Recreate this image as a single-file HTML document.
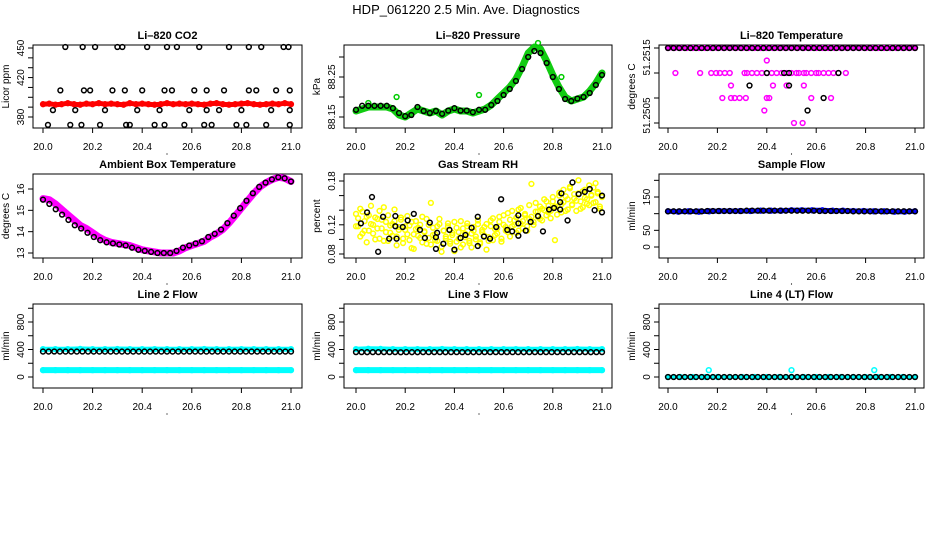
<!DOCTYPE html>
<html><head><meta charset="utf-8">
<style>
html,body{margin:0;padding:0;background:#fff;}
svg{display:block;font-family:"Liberation Sans",sans-serif;}
</style></head>
<body>
<svg id="chart" width="936" height="540" viewBox="0 0 936 540">
<text x="466" y="14" text-anchor="middle" font-size="13">HDP_061220  2.5 Min. Ave. Diagnostics</text>
</svg>
<script>
// ---------- data ----------
const xTicks = [20.0, 20.2, 20.4, 20.6, 20.8, 21.0];
const xTickLabels = ["20.0", "20.2", "20.4", "20.6", "20.8", "21.0"];
const panelTitles = ["Li\u2013820 CO2","Li\u2013820 Pressure","Li\u2013820 Temperature","Ambient Box Temperature","Gas Stream RH","Sample Flow","Line 2 Flow","Line 3 Flow","Line 4 (LT) Flow"];
const yAxisTitles = ["Licor ppm","kPa","degrees C","degrees C","percent","ml/min","ml/min","ml/min","ml/min"];

// CO2
const co2BlackX = [20.02,20.04,20.07,20.09,20.11,20.13,20.155,20.16,20.165,20.19,20.21,20.23,20.25,20.28,20.30,20.32,20.33,20.335,20.35,20.38,20.40,20.42,20.45,20.47,20.49,20.49,20.50,20.52,20.54,20.57,20.59,20.61,20.63,20.65,20.66,20.66,20.68,20.71,20.73,20.75,20.78,20.80,20.82,20.83,20.83,20.86,20.88,20.90,20.92,20.94,20.97,20.99,20.995,20.995,20.995];
const co2BlackY = [372,387,407,451,372,387,372,451,407,407,451,372,387,407,451,451,407,372,372,387,407,451,372,387,372,407,451,407,451,372,387,407,451,372,407,387,372,387,407,451,372,387,372,451,407,407,451,372,387,407,451,451,387,372,407];
const co2Red = [393,393.5,392.5,393,394,393,392.5,393.5,393,394,393,393.5,393,392.5,394,393,393.5,393,392.5,393,394,393,393.5,393,393.5,393,392.5,393.5,394,393,392.5,393,393.5,394,393,392.5,393,393.5,393,394,393];

// Pressure
const presGreen = [88.165,88.17,88.175,88.175,88.175,88.175,88.17,88.155,88.15,88.16,88.17,88.165,88.16,88.165,88.155,88.165,88.17,88.165,88.165,88.16,88.165,88.17,88.18,88.195,88.21,88.225,88.245,88.275,88.31,88.325,88.32,88.29,88.255,88.225,88.2,88.19,88.195,88.2,88.215,88.235,88.26];
const presBlack = [88.168,88.178,88.178,88.178,88.178,88.178,88.172,88.16,88.152,88.155,88.175,88.165,88.16,88.165,88.158,88.166,88.172,88.166,88.166,88.162,88.168,88.168,88.18,88.19,88.205,88.22,88.24,88.27,88.3,88.315,88.31,88.285,88.25,88.22,88.195,88.19,88.196,88.2,88.21,88.23,88.255];
const presGreenOutX = [20.05,20.165,20.5,20.74,20.835];
const presGreenOutY = [88.185,88.2,88.205,88.335,88.25];

// Temperature (Li-820)
const tempTop = 51.2520;
const tempMagX = [20.03,20.13,20.175,20.195,20.21,20.23,20.25,20.31,20.32,20.34,20.36,20.38,20.40,20.42,20.44,20.46,20.48,20.50,20.52,20.53,20.55,20.56,20.58,20.60,20.61,20.63,20.65,20.67,20.69,20.72,20.40,20.255,20.425,20.48,20.55,20.22,20.255,20.27,20.29,20.315,20.40,20.41,20.58,20.66,20.39,20.51,20.545];
const tempMagY = [51.2516,51.2516,51.2516,51.2516,51.2516,51.2516,51.2516,51.2516,51.2516,51.2516,51.2516,51.2516,51.2516,51.2516,51.2516,51.2516,51.2516,51.2516,51.2516,51.2516,51.2516,51.2516,51.2516,51.2516,51.2516,51.2516,51.2516,51.2516,51.2516,51.2516,51.2518,51.2514,51.2514,51.2514,51.2514,51.2512,51.2512,51.2512,51.2512,51.2512,51.2512,51.2512,51.2512,51.2512,51.2510,51.2508,51.2508];
const tempBlackX = [20.40,20.47,20.49,20.69,20.33,20.49,20.63,20.565];
const tempBlackY = [51.2516,51.2516,51.2516,51.2516,51.2514,51.2514,51.2512,51.2510];

// Ambient box temperature
const ambient = [15.55,15.5,15.3,15.05,14.8,14.55,14.3,14.15,13.95,13.75,13.6,13.5,13.45,13.4,13.35,13.25,13.15,13.1,13.05,13.0,13.0,13.0,13.1,13.25,13.35,13.45,13.55,13.75,13.9,14.1,14.4,14.75,15.1,15.45,15.8,16.1,16.3,16.45,16.55,16.5,16.35];

// Gas stream RH
const rhBlackX = [20.02,20.045,20.065,20.09,20.11,20.135,20.16,20.165,20.16,20.19,20.21,20.235,20.26,20.28,20.30,20.325,20.33,20.325,20.355,20.38,20.40,20.425,20.445,20.47,20.495,20.495,20.52,20.545,20.57,20.59,20.615,20.635,20.66,20.66,20.66,20.69,20.71,20.74,20.76,20.785,20.805,20.83,20.83,20.835,20.86,20.88,20.905,20.93,20.95,20.97,21.0,21.0];
const rhBlackY = [0.122,0.137,0.158,0.083,0.131,0.101,0.118,0.101,0.132,0.117,0.126,0.135,0.113,0.102,0.123,0.087,0.109,0.103,0.094,0.113,0.086,0.102,0.106,0.116,0.131,0.091,0.104,0.101,0.117,0.155,0.113,0.111,0.105,0.122,0.133,0.112,0.124,0.132,0.111,0.141,0.143,0.141,0.151,0.163,0.126,0.178,0.162,0.165,0.169,0.140,0.137,0.160];
const rhYellow = [0.135,0.118,0.142,0.108,0.125,0.131,0.112,0.146,0.12,0.1,0.128,0.139,0.115,0.098,0.124,0.133,0.109,0.121,0.141,0.104,0.117,0.127,0.095,0.113,0.132,0.119,0.088,0.107,0.125,0.116,0.102,0.131,0.111,0.094,0.12,0.15,0.106,0.099,0.118,0.128,0.09,0.112,0.104,0.122,0.097,0.109,0.084,0.116,0.101,0.125,0.093,0.108,0.118,0.098,0.089,0.112,0.104,0.121,0.096,0.11,0.117,0.086,0.103,0.126,0.099,0.114,0.108,0.131,0.097,0.12,0.112,0.136,0.104,0.118,0.126,0.109,0.141,0.122,0.115,0.133,0.112,0.128,0.176,0.12,0.138,0.131,0.145,0.126,0.14,0.152,0.137,0.129,0.158,0.145,0.134,0.16,0.148,0.168,0.139,0.155,0.172,0.147,0.162,0.153,0.181,0.142,0.166,0.157,0.149,0.174,0.161,0.15,0.177,0.163,0.145,0.158];
const rhYellow2 = [0.118,0.129,0.104,0.138,0.112,0.096,0.133,0.121,0.108,0.13,0.115,0.101,0.127,0.144,0.11,0.098,0.119,0.105,0.125,0.092,0.113,0.13,0.101,0.118,0.107,0.099,0.124,0.087,0.114,0.105,0.12,0.096,0.11,0.128,0.102,0.093,0.116,0.107,0.098,0.121,0.083,0.112,0.101,0.118,0.094,0.106,0.124,0.097,0.11,0.089,0.115,0.103,0.122,0.095,0.108,0.117,0.1,0.126,0.094,0.113,0.105,0.121,0.098,0.118,0.129,0.106,0.115,0.124,0.101,0.133,0.117,0.11,0.127,0.139,0.12,0.13,0.112,0.143,0.125,0.135,0.118,0.147,0.131,0.124,0.15,0.138,0.128,0.142,0.155,0.133,0.146,0.139,0.152,0.099,0.145,0.164,0.137,0.151,0.159,0.141,0.17,0.148,0.156,0.139,0.163,0.152,0.144,0.168,0.155,0.147,0.16,0.171,0.151,0.165,0.142,0.159];

// Sample flow
const sampleBlue = [107,106,107,106,107,108,108,108,108,109,109,109,110,110,110,110,109,109,108,108,107,107,106,106,107];
const sampleBlack = [107,107,107,107,107,107,107,108,108,108,108,108,108,108,109,109,109,109,109,109,109,109,109,109,109,109,109,108,108,108,108,108,108,107,107,107,107,107,107,107,107,107,107,107,107];

// Line flows
const line2CyanHigh = [405,405,405,408,405,405,407,405,405,406,405,405,405,407,405,405,406,405,405,405,405];
const line2CyanLow = [100,100,100,100,100,100,100,100,100,100,100,100,100,100,100,100,100,100,100,100,100];
const line2Black = [370,370,371,370,370,370,370,371,370,370,370,370,370,370,370,370,370,370,370,370,370,370,370,370,370,370,371,370,370,370,370,370,370,370,370,370,370,370,370,370,370,370,370,370,370];
const line3CyanHigh = [405,410,408,405,405,406,405,407,405,405,405,405,405,406,405,405,405,405,407,405,405];
const line3CyanLow = [100,100,100,100,100,100,100,100,100,100,100,100,100,100,100,100,100,100,100,100,100];
const line3Black = [362,362,361,362,362,362,362,362,360,362,361,361,362,362,362,362,361,362,362,362,362,361,362,362,362,362,362,362,362,362,361,362,362,362,362,362,362,362,362,362,362,362,361,362,362];
const line4Cyan = [0,0,0,0,0,0,0,0,0,0,0,0,0,0,0,0,0,0,0,0,0];
const line4Black = [0,0,0,0,0,0,0,0,0,0,0,0,0,0,0,0,0,0,0,0,0,0,0,0,0,0,0,0,0,0,0,0,0,0,0,0,0,0,0,0,0,0,0,0,0];
const line4OutX = [20.165,20.50,20.835];
const line4OutY = [100,100,100];

// y ticks per panel
const yTicks = [[380,390,400,410,420,430,440,450],[88.15,88.20,88.25,88.30],[51.2520,51.2516,51.2512,51.2508],[13,14,15,16],[0.08,0.10,0.12,0.14,0.16,0.18],[0,50,100,150,200],[0,200,400,600,800,1000],[0,200,400,600,800,1000],[0,200,400,600,800,1000]];
const yLabelVals = [[380,420,450],[88.15,88.25],[51.25185,51.25092],[13,14,15,16],[0.08,0.12,0.18],[0,50,150],[0,400,800],[0,400,800],[0,400,800]];
const yLabelText = [["380","420","450"],["88.15","88.25"],["51.2515","51.2505"],["13","14","15","16"],["0.08","0.12","0.18"],["0","50","150"],["0","400","800"],["0","400","800"],["0","400","800"]];

// ---------- layout (not data) ----------
const cols = [{bl:33,br:302,x0:43,x1:291},{bl:344,br:612,x0:356,x1:602},{bl:659,br:924,x0:668,x1:915}];
const rows = [{bt:45,bb:128},{bt:174,bb:258},{bt:304,bb:388}];
const yRef = [[450,48,380,117],[88.25,77,88.15,117],[51.2520,48,51.2508,123],[16,189,13,253],[0.18,181,0.08,254],[150,197,0,247],[800,322,0,377],[800,322,0,377],[800,322,0,377]];

const NS = "http://www.w3.org/2000/svg";
const svg = document.getElementById('chart');
function mk(tag, attrs, parent){const e=document.createElementNS(NS,tag);for(const k in attrs)e.setAttribute(k,attrs[k]);(parent||svg).appendChild(e);return e;}
function even(n,i){return 20+i/(n-1);}

for(let p=0;p<9;p++){
  const c=cols[p%3], r=rows[Math.floor(p/3)], yr=yRef[p];
  const g=mk('g',{});
  
  
  const sx=v=>c.x0+(v-20)*(c.x1-c.x0);
  const sy=v=>yr[1]+(yr[0]-v)/(yr[0]-yr[2])*(yr[3]-yr[1]);
  const t=mk('text',{x:(c.bl+c.br)/2,y:r.bt-6,'text-anchor':'middle','font-size':'11','font-weight':'bold'},g);
  t.textContent=panelTitles[p];
  
  
  const box=mk('rect',{x:c.bl,y:r.bt,width:c.br-c.bl,height:r.bb-r.bt,fill:'none',stroke:'#000','stroke-width':'1'},g);
  
  
  const xa=mk('g',{},g);
  
  
  mk('line',{x1:sx(20),x2:sx(21),y1:r.bb,y2:r.bb,stroke:'#000'},xa);
  xTicks.forEach((v,i)=>{
    mk('line',{x1:sx(v),x2:sx(v),y1:r.bb,y2:r.bb+5,stroke:'#000'},xa);
    const l=mk('text',{x:sx(v),y:r.bb+22,'text-anchor':'middle','font-size':'10'},xa);
    l.textContent=xTickLabels[i];
    
    
  });
  const ya=mk('g',{},g);
  
  
  const yt=yTicks[p];
  mk('line',{x1:c.bl,x2:c.bl,y1:sy(yt[0]),y2:sy(yt[yt.length-1]),stroke:'#000'},ya);
  yt.forEach(v=>mk('line',{x1:c.bl-5,x2:c.bl,y1:sy(v),y2:sy(v),stroke:'#000'},ya));
  yLabelVals[p].forEach((v,i)=>{
    const yy=sy(v), xx=c.bl-9;
    const l=mk('text',{x:xx,y:yy,'text-anchor':'middle','font-size':'10',transform:`rotate(-90 ${xx} ${yy})`},ya);
    l.textContent=yLabelText[p][i];
    
    
  });
  const yx=c.bl-24, yy=(r.bt+r.bb)/2;
  const yl=mk('text',{x:yx,y:yy,'text-anchor':'middle','font-size':'10',transform:`rotate(-90 ${yx} ${yy})`},g);
  yl.textContent=yAxisTitles[p];
  
  
  const dot=mk('circle',{cx:(c.x0+c.x1)/2,cy:r.bb+26,r:0.6,fill:'#000'},g);
  
  

  const clip=mk('g',{},g);
  
  
  function band(vals,color,w){
    const d=vals.map((v,i)=>(i?'L':'M')+sx(even(vals.length,i)).toFixed(1)+' '+sy(v).toFixed(1)).join(' ');
    const e=mk('path',{d:d,fill:'none',stroke:color,'stroke-width':w,'stroke-linejoin':'round','stroke-linecap':'round'},clip);
    
    
    vals.forEach((v,i)=>pt(even(vals.length,i),v,color));
  }
  function pt(x,y,color,rad){
    const e=mk('circle',{cx:sx(x),cy:sy(y),r:rad||2.4,fill:'none',stroke:color,'stroke-width':'1.5'},clip);
    
    
  }
  function pts(xs,ys,color){ys.forEach((v,i)=>pt(xs?xs[i]:even(ys.length,i),v,color));}
  function evenPts(ys,color){ys.forEach((v,i)=>pt(even(ys.length,i),v,color));}

  if(p===0){band(co2Red,'#f00',5);pts(co2BlackX,co2BlackY,'#000');}
  if(p===1){band(presGreen,'#1c1',7);pts(presGreenOutX,presGreenOutY,'#0c0');evenPts(presBlack,'#000');}
  if(p===2){
    const top=[];for(let i=0;i<41;i++)top.push(tempTop);
    band(top,'#f0f',5);pts(tempMagX,tempMagY,'#f0f');
    const tb=[];for(let i=0;i<45;i++)tb.push(tempTop);
    evenPts(tb,'#000');pts(tempBlackX,tempBlackY,'#000');
  }
  if(p===3){band(ambient,'#f0f',7);evenPts(ambient.slice(1),'#000');}
  if(p===4){evenPts(rhYellow,'#ff0');evenPts(rhYellow2,'#ff0');pts(rhBlackX,rhBlackY,'#000');}
  if(p===5){band(sampleBlue,'#00f',5);evenPts(sampleBlack,'#000');}
  if(p===6){band(line2CyanHigh,'#0ff',5);band(line2CyanLow,'#0ff',6);evenPts(line2Black,'#000');}
  if(p===7){band(line3CyanHigh,'#0ff',5);band(line3CyanLow,'#0ff',6);evenPts(line3Black,'#000');}
  if(p===8){band(line4Cyan,'#0ff',4);evenPts(line4Black,'#000');pts(line4OutX,line4OutY,'#0ff');}
}
</script>
</body></html>
